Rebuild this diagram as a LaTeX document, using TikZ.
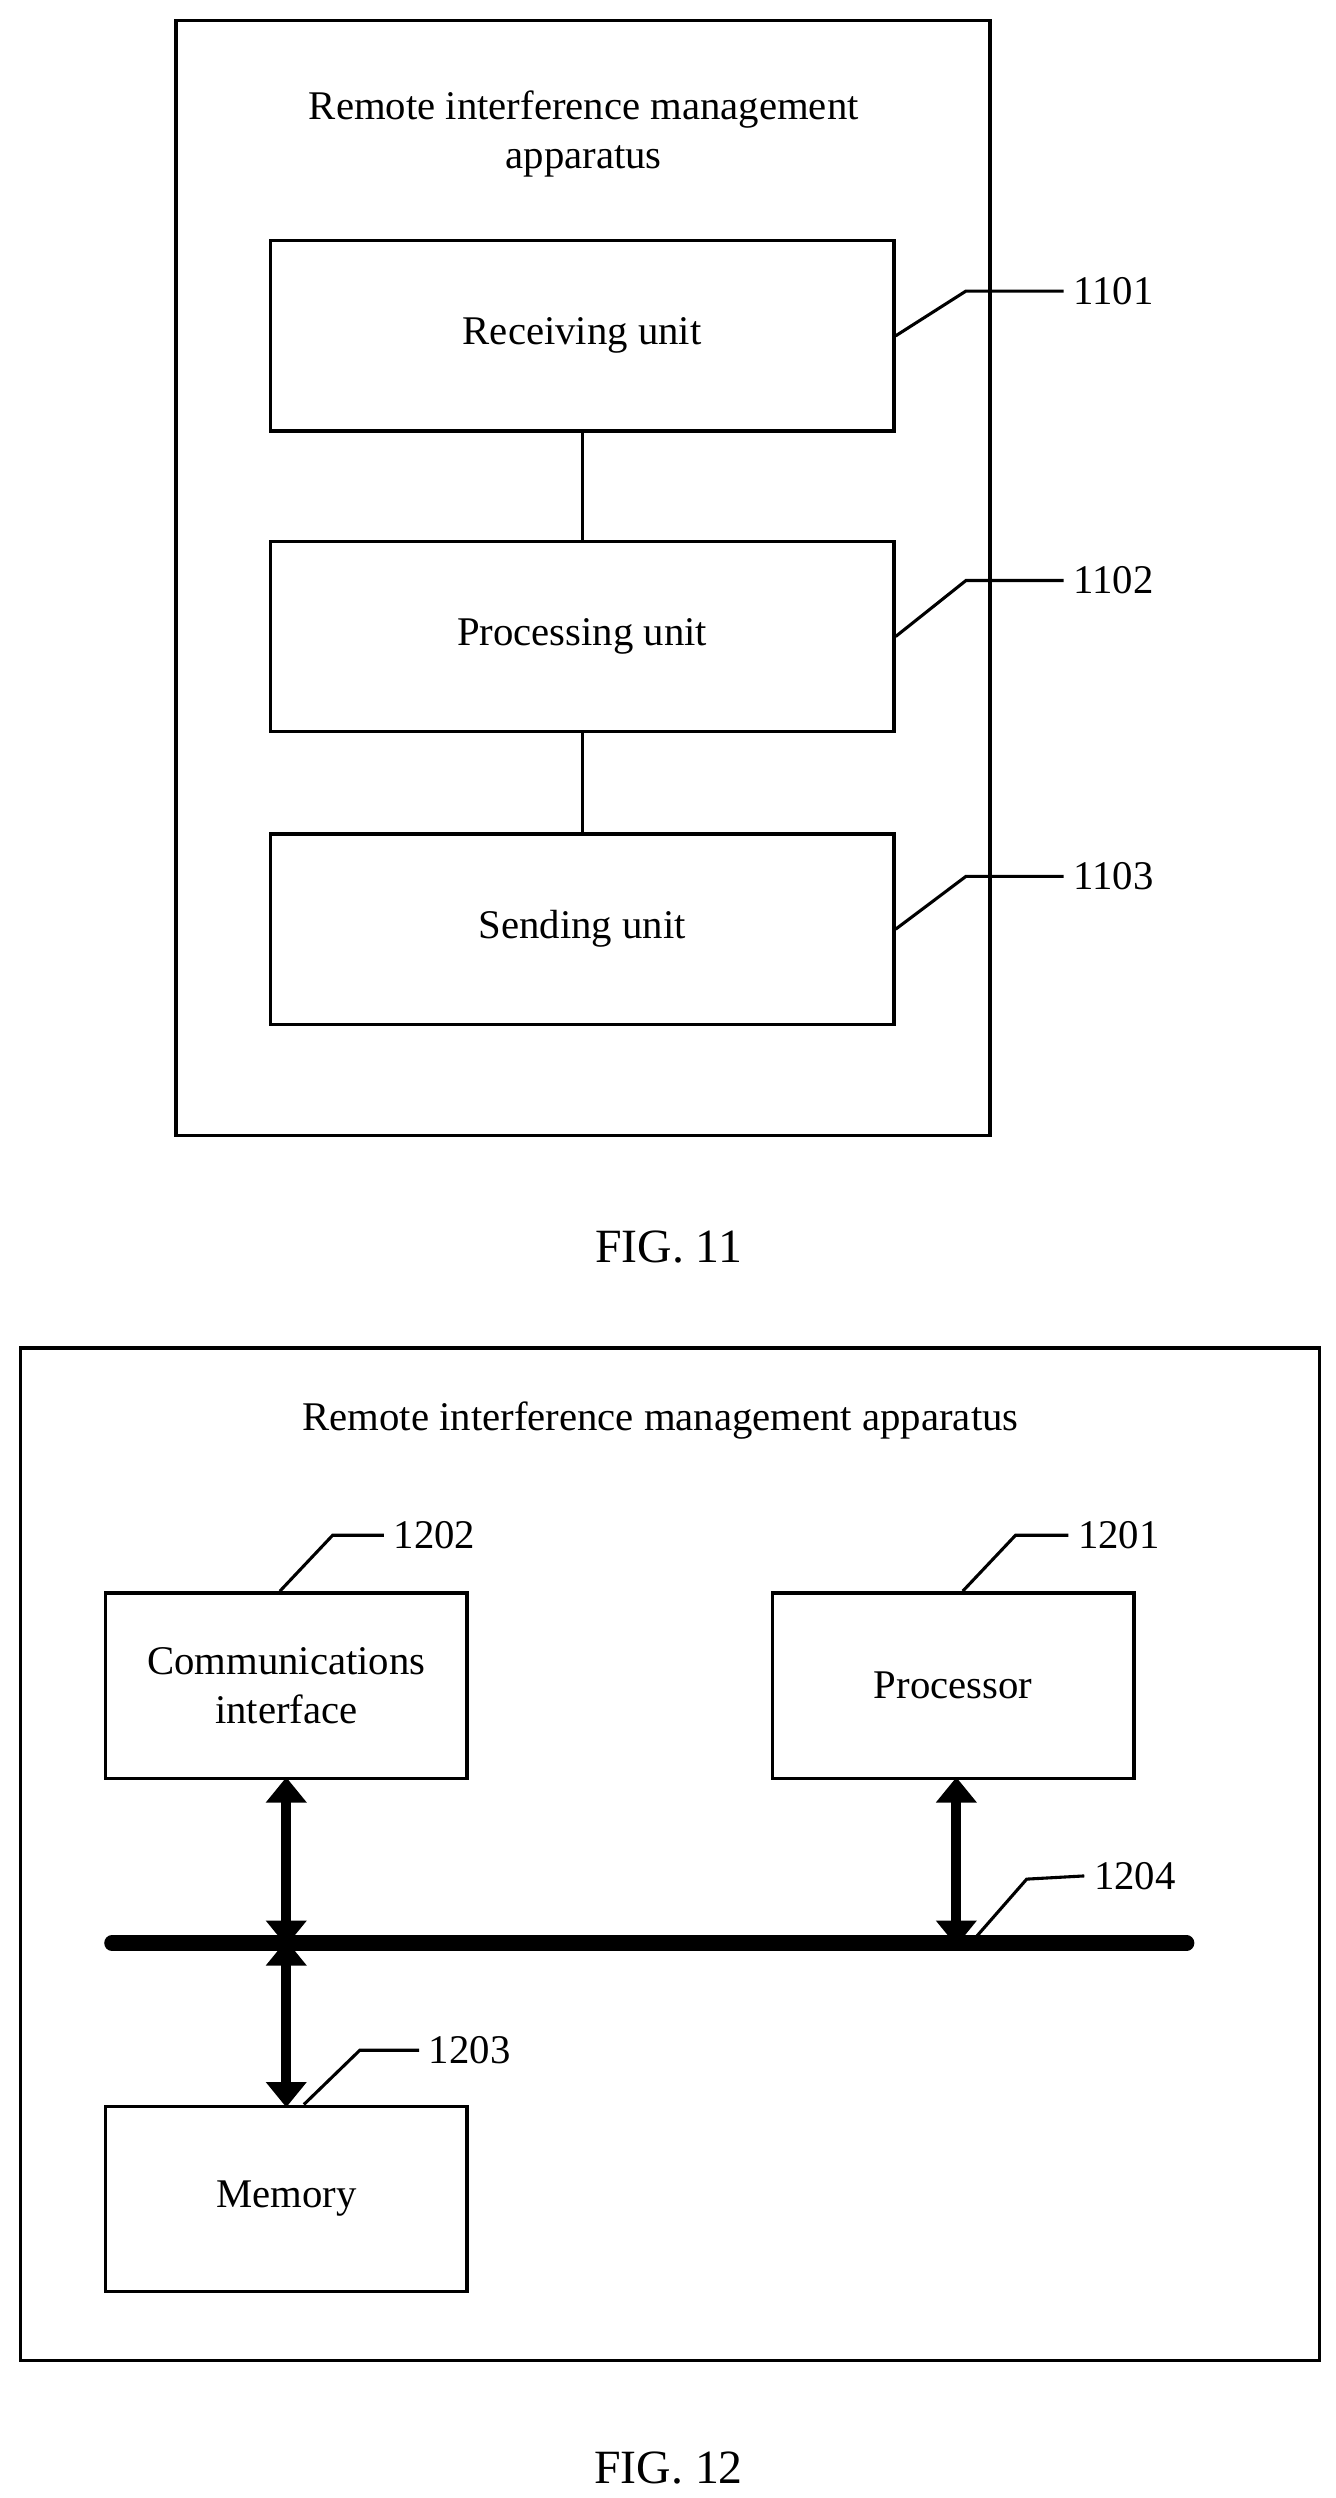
\documentclass[tikz,border=0pt]{standalone}
\usepackage{fontspec}
\setmainfont{Liberation Serif}
\usetikzlibrary{arrows.meta}
\tikzset{
  unit/.style={draw, line width=1.2pt, minimum width=390*0.02cm, minimum height=119*0.02cm, align=center},
  block/.style={draw, line width=1.2pt, minimum width=226*0.02cm, minimum height=116*0.02cm, align=center},
  lead/.style={line width=1.1pt},
  busarrow/.style={line width=3.6pt, {Triangle[length=9pt,width=14pt]}-{Triangle[length=9pt,width=14pt]}, shorten <=-1pt, shorten >=-1pt}
}
\begin{document}
\begin{tikzpicture}[x=0.02cm, y=-0.02cm, font=\fontsize{14.5}{17.5}\selectfont]
\useasboundingbox (0,0) rectangle (835,1562);
% FIG. 11
\draw[line width=1.2pt] (110,13) rectangle (619,710);
\node[align=center] (title11) at (365,84) {Remote interference management\\apparatus};
\node[unit] (recv) at (364,210) {Receiving unit};
\node[unit] (proc) at (364,398) {Processing unit};
\node[unit] (send) at (364,581) {Sending unit};
\draw[lead] (recv) -- (proc);
\draw[lead] (proc) -- (send);
\coordinate (k1) at (604,182);
\coordinate (k2) at (604,363);
\coordinate (k3) at (604,548);
\node[anchor=west] (l1101) at (665,182) {1101};
\node[anchor=west] (l1102) at (665,363) {1102};
\node[anchor=west] (l1103) at (665,548) {1103};
\draw[lead] (recv.east) -- (k1) -- (l1101.west);
\draw[lead] (proc.east) -- (k2) -- (l1102.west);
\draw[lead] (send.east) -- (k3) -- (l1103.west);
\node (fig11) at (418,780) {\fontsize{17}{20}\selectfont FIG. 11};
% FIG. 12
\draw[line width=1.2pt] (13,843) rectangle (825,1476);
\node (title12) at (413,888) {Remote interference management apparatus};
\node[block] (comm) at (179,1054) {Communications\\interface};
\node[block] (cpu) at (596,1054) {Processor};
\node[block] (mem) at (179,1375) {Memory};
\coordinate (busL) at (70,1215);
\coordinate (busR) at (742,1215);
\draw[line width=5.5pt, line cap=round] (busL) -- (busR);
\coordinate (b1) at (179,1215);
\coordinate (b2) at (598,1215);
\draw[busarrow] (comm.south) -- (b1);
\draw[busarrow] (b1) -- (mem.north);
\draw[busarrow] (cpu.south -| b2) -- (b2);
\node[anchor=west] (l1202) at (240,960) {1202};
\node[anchor=west] (l1201) at (668,960) {1201};
\node[anchor=west] (l1204) at (678,1173) {1204};
\node[anchor=west] (l1203) at (262,1282) {1203};
\draw[lead] ([xshift=-4*0.02cm]comm.north) -- (208,960) -- (l1202.west);
\draw[lead] ([xshift=6*0.02cm]cpu.north) -- (635,960) -- (l1201.west);
\draw[lead] (607,1215) -- (642,1175) -- (l1204.west);
\draw[lead] ([xshift=11*0.02cm]mem.north) -- (225,1282) -- (l1203.west);
\node (fig12) at (418,1543) {\fontsize{17}{20}\selectfont FIG. 12};
\end{tikzpicture}
\end{document}
